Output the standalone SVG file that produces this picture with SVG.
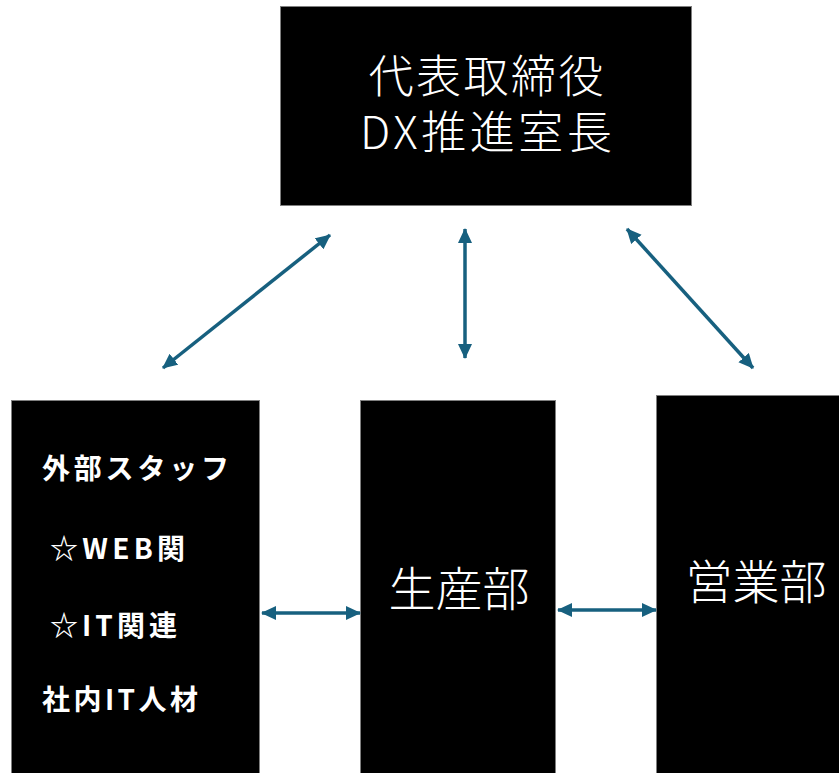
<svg xmlns="http://www.w3.org/2000/svg" width="839" height="773" viewBox="0 0 839 773">
<style>
.box{fill:#000;stroke:#7f7f7f;stroke-width:1}
.lt{font-family:"Noto Sans CJK JP","Noto Sans",sans-serif;font-weight:300;fill:#fff;font-size:45px;text-anchor:middle}
.lg{font-size:47px}
.bd{font-family:"Noto Sans CJK JP","Noto Sans",sans-serif;font-weight:700;fill:#fff;font-size:28px}
.conn{stroke:#17607f;stroke-width:3.5;fill:none;marker-start:url(#ah);marker-end:url(#ah)}
</style>
<defs>
<marker id="ah" markerUnits="userSpaceOnUse" markerWidth="16" markerHeight="16" refX="14" refY="7" orient="auto-start-reverse">
<path d="M0,0 L15,7 L0,14 z" fill="#17607f"/>
</marker>
</defs>
<rect width="839" height="773" fill="#fff"/>
<g id="top">
<rect class="box" x="280.5" y="6.5" width="411" height="199"/>
<text class="lt"><tspan x="486" y="93" textLength="235" lengthAdjust="spacing">代表取締役</tspan><tspan x="486" y="149" textLength="252" lengthAdjust="spacing">DX推進室長</tspan></text>
</g>
<g id="left">
<rect class="box" x="11.5" y="400.5" width="248" height="373"/>
<text class="bd" x="42" y="479" textLength="187" lengthAdjust="spacing">外部スタッフ</text>
<text class="bd" x="50" y="559" textLength="135" lengthAdjust="spacing">☆WEB関</text>
<text class="bd" x="50" y="636" textLength="127" lengthAdjust="spacing">☆IT関連</text>
<text class="bd" x="42" y="710" textLength="156" lengthAdjust="spacing">社内IT人材</text>
</g>
<g id="production">
<rect class="box" x="360.5" y="400.5" width="195" height="373"/>
<text class="lt lg" x="459" y="606">生産部</text>
</g>
<g id="sales">
<rect class="box" x="656.5" y="395.5" width="183" height="378"/>
<text class="lt lg" x="756" y="599">営業部</text>
</g>
<g id="connectors">
<line class="conn" x1="163" y1="368" x2="330" y2="235"/>
<line class="conn" x1="465" y1="229" x2="465" y2="358"/>
<line class="conn" x1="627" y1="229" x2="753" y2="368"/>
<line class="conn" x1="262" y1="613" x2="360" y2="613"/>
<line class="conn" x1="558" y1="610" x2="656" y2="610"/>
</g>
</svg>
